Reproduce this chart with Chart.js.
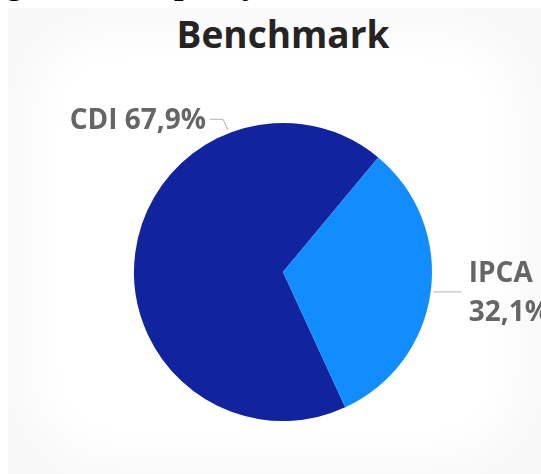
<!DOCTYPE html>
<html>
<head>
<meta charset="utf-8">
<script src="https://cdn.jsdelivr.net/npm/chart.js@4.4.1/dist/chart.umd.min.js"></script>
<style>
  html, body { margin: 0; padding: 0; background: #ffffff; }
  #wrap { position: relative; width: 541px; height: 474px; overflow: hidden; }
  #caption { position: absolute; left: 0; top: 0; width: 541px; height: 9px; overflow: hidden;
             font-family: "Liberation Serif", serif; font-weight: bold; font-size: 34px; line-height: 1; color: #000; }
  #caption span { position: absolute; top: -34px; }
  #panel { position: absolute; left: 8px; top: 8px; width: 560px; height: 500px; background: #f8f8f8; overflow: hidden; }
  #panel .glow { position: absolute; left: 22px; top: 22px; width: 490px; height: 430px; background: #fff;
                 border-radius: 80px; filter: blur(24px); }
  #title { position: absolute; left: 0; top: 15px; width: 566px; text-align: center; line-height: 1;
           font-family: "Open Sans", sans-serif; font-weight: 700; font-size: 37px; color: #252423; }
  canvas { position: absolute; left: 0; top: 0; }
</style>
</head>
<body>
<div id="wrap">
  <div id="caption"><span style="left:6px">g</span><span style="left:174px">p</span><span style="left:238px">ç</span></div>
  <div id="panel"><div class="glow"></div></div>
  <div id="title">Benchmark</div>
  <canvas id="benchmarkPie" width="541" height="474"></canvas>
</div>
<script>
const categories = ['CDI', 'IPCA'];
const shares = [67.9, 32.1]; // % of allocation
const sliceColors = ['#12239E', '#118DFF'];

// where each outside label sits (layout only)
const labelLayout = [
    { angle: -111.2, elbow: [-5, -11], run: -13, align: 'right', wrap: false },
    { angle: null,   elbow: [14, 0],   run: 14,  align: 'left',  wrap: true }
];

function fmt(v) {
    return v.toFixed(1).replace('.', ',') + '%';
}

const outsideLabels = {
    id: 'outsideLabels',
    afterDatasetsDraw(chart) {
        const ctx = chart.ctx;
        const meta = chart.getDatasetMeta(0);
        meta.data.forEach(function (arc, i) {
            const p = arc.getProps(['x', 'y', 'startAngle', 'endAngle', 'outerRadius'], true);
            const lay = labelLayout[i];
            const ang = lay.angle !== null ? lay.angle * Math.PI / 180 : (p.startAngle + p.endAngle) / 2;
            const r = p.outerRadius + 3;
            const x0 = p.x + Math.cos(ang) * r;
            const y0 = p.y + Math.sin(ang) * r;
            const x1 = x0 + lay.elbow[0];
            const y1 = y0 + lay.elbow[1];
            const x2 = x1 + lay.run;

            ctx.save();
            ctx.strokeStyle = '#b3b3b3';
            ctx.lineWidth = 1;
            ctx.beginPath();
            ctx.moveTo(x0, y0);
            ctx.lineTo(x1, y1);
            ctx.lineTo(x2, y1);
            ctx.stroke();

            ctx.fillStyle = '#666666';
            ctx.font = '700 28px "Open Sans", sans-serif';
            ctx.textBaseline = 'middle';
            ctx.textAlign = lay.align;
            const tx = lay.align === 'right' ? x2 - 4 : x2 + 7;
            const lines = lay.wrap ? [categories[i], fmt(shares[i])] : [categories[i] + ' ' + fmt(shares[i])];
            const lh = 39;
            const top = y1 + 2 - (lines.length - 1) * lh / 2;
            lines.forEach(function (t, k) {
                ctx.fillText(t, tx, top + k * lh);
            });
            ctx.restore();
        });
    }
};

const ctx = document.getElementById('benchmarkPie').getContext('2d');
new Chart(ctx, {
    type: 'pie',
    data: {
        labels: categories,
        datasets: [{
            data: shares,
            backgroundColor: sliceColors,
            borderWidth: 0
        }]
    },
    options: {
        responsive: false,
        animation: false,
        rotation: 155.3,
        layout: {
            padding: { left: 134, right: 109, top: 123, bottom: 53 }
        },
        plugins: {
            legend: { display: false },
            tooltip: { enabled: false }
        }
    },
    plugins: [outsideLabels]
});
</script>
</body>
</html>
